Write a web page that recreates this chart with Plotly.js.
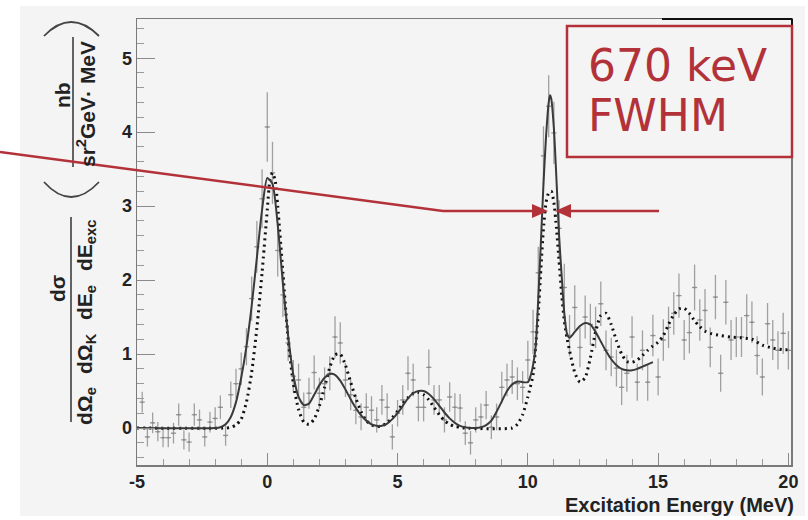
<!DOCTYPE html>
<html><head><meta charset="utf-8">
<script src="https://cdn.plot.ly/plotly-3.0.1.min.js"></script>
<style>html,body{margin:0;padding:0;background:#fff;}#plot{width:808px;height:520px;}</style>
</head><body><div id="plot"></div>
<script>
// ---- measured data (bin centres, values, errors) ----
const dataX = [-4.8,-4.6,-4.4,-4.2,-4.0,-3.8,-3.6,-3.4,-3.2,-3.0,-2.8,-2.6,-2.4,-2.2,-2.0,-1.8,-1.6,
 -1.4,-1.2,-1.0,-0.8,
 -0.6,-0.4,-0.2,0.0,0.2,0.4,0.6,
 0.8,1.0,1.2,1.4,1.6,1.8,2.0,2.2,2.4,2.6,2.8,3.0,3.2,3.4,3.6,3.8,4.0,4.2,4.4,4.6,4.8,5.0,5.2,5.4,5.6,5.8,6.0,6.2,6.4,6.6,6.8,7.0,7.2,7.4,7.6,7.8,8.0,8.2,8.4,8.6,8.8,9.0,9.2,9.4,9.6,9.8,
 10.0,10.2,10.4,10.6,10.8,11.0,11.2,11.4,
 11.6,11.8,12.0,12.2,12.4,12.6,12.8,13.0,13.2,13.4,13.6,13.8,14.0,14.2,14.4,14.6,14.8,15.0,15.2,15.4,15.6,15.8,16.0,16.2,16.4,16.6,16.8,17.0,17.2,17.4,17.6,17.8,18.0,18.2,18.4,18.6,18.8,19.0,19.2,19.4,19.6,19.8,20.0];
const dataY = [0.35,-0.12,0.07,-0.05,-0.13,-0.13,-0.07,0.18,-0.16,-0.19,0.18,0.11,-0.12,0.08,0.13,0.28,-0.10,
 0.45,0.60,0.80,1.10,
 1.75,2.45,3.10,4.07,3.45,2.40,1.80,
 1.15,0.70,0.65,0.28,0.47,0.75,0.47,0.60,0.74,1.23,1.15,0.65,0.45,0.24,0.15,0.28,0.24,0.11,0.38,0.28,-0.12,0.20,0.38,0.74,0.65,0.28,0.28,0.82,0.38,0.38,0.11,0.42,0.28,0.27,-0.07,-0.20,0.11,0.15,0.31,0.01,0.15,0.55,0.65,0.69,0.60,0.55,
 0.92,1.30,2.10,3.68,4.35,3.99,2.70,1.90,
 1.25,1.63,1.09,1.50,1.40,1.36,1.68,1.05,0.96,0.81,0.55,0.74,1.23,0.62,1.05,0.62,1.25,0.69,1.19,1.36,1.55,1.79,1.19,1.29,1.90,1.46,1.59,1.09,1.77,0.74,1.70,1.19,1.23,1.23,1.52,1.43,0.98,0.69,1.41,1.19,1.05,1.28,1.05];
const dataErr = [0.14,0.13,0.14,0.13,0.13,0.13,0.14,0.15,0.13,0.13,0.15,0.14,0.13,0.14,0.15,0.16,0.14,
 0.18,0.20,0.22,0.25,
 0.30,0.35,0.40,0.47,0.42,0.35,0.30,
 0.24,0.22,0.22,0.20,0.21,0.23,0.21,0.22,0.23,0.28,0.28,0.23,0.21,0.19,0.18,0.19,0.19,0.17,0.20,0.19,0.17,0.18,0.20,0.23,0.22,0.19,0.19,0.24,0.20,0.20,0.17,0.20,0.19,0.19,0.16,0.16,0.17,0.18,0.19,0.16,0.18,0.21,0.22,0.23,0.22,0.22,
 0.26,0.30,0.35,0.40,0.42,0.42,0.38,0.32,
 0.28,0.30,0.27,0.29,0.28,0.28,0.30,0.27,0.26,0.25,0.24,0.25,0.28,0.25,0.27,0.25,0.28,0.25,0.28,0.28,0.29,0.30,0.27,0.28,0.31,0.28,0.29,0.27,0.30,0.25,0.30,0.27,0.27,0.27,0.29,0.28,0.26,0.25,0.28,0.27,0.26,0.28,0.26];
const binHalf = 0.1;

// fit curve (solid)
const solidX = [-5,-2.0,-1.8,-1.6,-1.4,-1.2,-1.0,-0.8,-0.6,-0.4,-0.2,0.0,0.2,0.4,0.6,0.8,1.0,1.2,1.4,1.6,1.8,2.0,2.2,2.4,2.6,2.8,3.0,3.2,3.4,3.6,3.8,4.0,4.2,4.4,4.6,4.8,5.0,5.2,5.4,5.6,5.8,6.0,6.2,6.4,6.6,6.8,7.0,7.2,7.4,7.6,7.8,8.0,8.2,8.4,8.6,8.8,9.0,9.2,9.4,9.6,9.8,10.0,10.1,10.2,10.3,10.4,10.5,10.6,10.7,10.8,10.85,10.9,11.0,11.1,11.2,11.3,11.4,11.5,11.6,11.8,12.0,12.2,12.4,12.6,12.8,13.0,13.2,13.4,13.6,13.8,14.0,14.2,14.4,14.6,14.8];
const solidY = [0,0,0.01,0.05,0.15,0.35,0.68,1.10,1.65,2.30,2.95,3.38,3.30,2.75,1.95,1.25,0.72,0.42,0.31,0.33,0.45,0.58,0.68,0.73,0.72,0.64,0.52,0.39,0.27,0.17,0.10,0.05,0.03,0.03,0.06,0.12,0.20,0.30,0.40,0.47,0.50,0.50,0.46,0.39,0.30,0.21,0.13,0.07,0.03,0.01,0.0,0.0,0.01,0.04,0.10,0.22,0.36,0.50,0.59,0.63,0.62,0.62,0.70,0.85,1.10,1.75,2.50,3.30,3.95,4.40,4.50,4.45,4.05,3.35,2.60,2.05,1.55,1.28,1.22,1.30,1.38,1.42,1.40,1.30,1.17,1.04,0.93,0.85,0.80,0.78,0.78,0.80,0.83,0.86,0.89];

// comparison curve (dotted)
const dotX = [-5,-1.6,-1.4,-1.2,-1.0,-0.8,-0.6,-0.4,-0.2,0.0,0.1,0.2,0.3,0.4,0.6,0.8,1.0,1.2,1.4,1.6,1.8,2.0,2.2,2.4,2.6,2.8,3.0,3.2,3.4,3.6,3.8,4.0,4.2,4.4,4.6,4.8,5.0,5.2,5.4,5.6,5.8,6.0,6.2,6.4,6.6,6.8,7.0,7.2,7.4,7.6,9.4,9.6,9.8,10.0,10.2,10.3,10.4,10.5,10.6,10.7,10.8,10.9,11.0,11.1,11.2,11.3,11.4,11.5,11.6,11.8,12.0,12.2,12.4,12.6,12.8,13.0,13.2,13.4,13.6,13.8,14.0,14.2,14.4,14.6,14.8,15.0,15.2,15.4,15.6,15.8,16.0,16.2,16.4,16.6,16.8,17.0,17.4,17.8,18.2,18.6,19.0,19.4,19.8,20.0];
const dotY = [0,0,0.01,0.04,0.12,0.35,0.75,1.35,2.10,2.95,3.35,3.45,3.35,3.00,2.10,1.20,0.60,0.25,0.08,0.05,0.12,0.30,0.55,0.82,0.99,1.00,0.85,0.62,0.40,0.22,0.10,0.04,0.02,0.03,0.07,0.14,0.23,0.33,0.41,0.47,0.48,0.45,0.38,0.28,0.18,0.10,0.05,0.02,0.01,0,0,0.05,0.18,0.42,0.72,1.10,1.55,2.15,2.70,3.05,3.18,3.20,3.05,2.70,2.25,1.80,1.45,1.22,1.05,0.75,0.62,0.68,0.95,1.30,1.52,1.55,1.40,1.18,1.00,0.90,0.89,0.92,0.98,1.05,1.11,1.16,1.25,1.40,1.53,1.61,1.62,1.55,1.45,1.37,1.31,1.28,1.25,1.23,1.22,1.20,1.12,1.08,1.06,1.06];

const xTickVals = [-5,0,5,10,15,20];
const xTickText = ['-5','0','5','10','15','20'];
const yTickVals = [0,1,2,3,4,5];
const yTickText = ['0','1','2','3','4','5'];

// ---- layout geometry (pixels) ----
const L=137, R=791, T=19, B=465;
const px = x => (x-L)/(R-L);
const py = y => (B-y)/(B-T);
const RED = '#b3323a';
const TXT = '#222';
const FAM = 'Liberation Sans, Arial, sans-serif';
const titleFont = {family:FAM, size:21, color:TXT, weight:'bold'};

const traces = [
 {x:dataX, y:dataY, type:'scatter', mode:'markers',
  marker:{size:2, color:'#8a8a8a'},
  error_y:{type:'data', array:dataErr, visible:true, color:'#a0a0a0', thickness:1.3, width:0},
  error_x:{type:'constant', value:binHalf, visible:true, color:'#959595', thickness:1.3, width:0},
  hoverinfo:'skip', showlegend:false},
 {x:dotX, y:dotY, type:'scatter', mode:'lines', line:{color:'#111', width:3, dash:'2px,4px', shape:'spline', smoothing:0.6}, showlegend:false},
 {x:solidX, y:solidY, type:'scatter', mode:'lines', line:{color:'#3a3a3a', width:2, shape:'spline', smoothing:0.6}, showlegend:false}
];

const ann = (x,y,text,opt={}) => Object.assign({xref:'paper',yref:'paper',x:px(x),y:py(y),text:text,showarrow:false,
   textangle:-90, xanchor:'center', yanchor:'middle', font:titleFont}, opt);
const pp = (x,y) => `${px(x)} ${py(y)}`;

const layout = {
 width:808, height:520,
 margin:{l:L, r:808-R, t:T, b:520-B, pad:0},
 paper_bgcolor:'#ffffff', plot_bgcolor:'#f4f4f4',
 xaxis:{range:[-5,20.1], tickmode:'array', tickvals:xTickVals, ticktext:xTickText,
   ticks:'inside', ticklen:12, tickwidth:1, tickcolor:'#8a8a8a',
   minor:{tickmode:'linear', tick0:-5, dtick:1, ticks:'inside', ticklen:6, tickcolor:'#9a9a9a', showgrid:false},
   showline:true, linecolor:'#7a7a7a', linewidth:1.5, mirror:true, showgrid:false, zeroline:false,
   tickfont:{family:FAM, size:18, color:TXT, weight:'bold'},
   title:{text:''}},
 yaxis:{range:[-0.5,5.53], tickmode:'array', tickvals:yTickVals, ticktext:yTickText,
   ticks:'inside', ticklen:18, tickwidth:1, tickcolor:'#8a8a8a',
   minor:{tickmode:'linear', tick0:0, dtick:0.2, ticks:'inside', ticklen:7, tickcolor:'#9a9a9a', showgrid:false},
   showline:true, linecolor:'#7a7a7a', linewidth:1.5, mirror:true, showgrid:false, zeroline:false,
   tickfont:{family:FAM, size:18, color:TXT, weight:'bold'},
   title:{text:''}},
 shapes:[
  {type:'rect', xref:'paper', yref:'paper', x0:px(20), x1:px(805), y0:py(6), y1:py(516), fillcolor:'#f4f4f4', line:{width:0}, layer:'below'},
  {type:'line', xref:'paper', yref:'paper', x0:px(662), x1:px(792), y0:py(19), y1:py(19), line:{color:'#111', width:2}},
  {type:'line', xref:'paper', yref:'paper', x0:px(792), x1:px(792), y0:py(19), y1:py(25), line:{color:'#111', width:2}},
  // y-title fraction bars
  {type:'line', xref:'paper', yref:'paper', x0:px(71), x1:px(71), y0:py(217), y1:py(422), line:{color:'#333', width:1.5}},
  {type:'line', xref:'paper', yref:'paper', x0:px(73), x1:px(73), y0:py(37), y1:py(167), line:{color:'#333', width:1.5}},
  // y-title parentheses
  {type:'path', xref:'paper', yref:'paper', path:`M ${pp(44,182)} Q ${pp(71,212)} ${pp(99,182)}`, line:{color:'#444', width:1.8}},
  {type:'path', xref:'paper', yref:'paper', path:`M ${pp(44,36)} Q ${pp(71,8)} ${pp(99,36)}`, line:{color:'#444', width:1.8}},
  // red FWHM annotation
  {type:'line', xref:'paper', yref:'paper', x0:px(0), x1:px(443), y0:py(152), y1:py(211), line:{color:RED, width:2.5}},
  {type:'line', xref:'paper', yref:'paper', x0:px(443), x1:px(533), y0:py(211), y1:py(211), line:{color:RED, width:2.5}},
  {type:'line', xref:'paper', yref:'paper', x0:px(570), x1:px(659), y0:py(211), y1:py(211), line:{color:RED, width:2.5}},
  {type:'path', xref:'paper', yref:'paper', path:`M ${pp(532,204)} L ${pp(548,211)} L ${pp(532,218)} Z`, fillcolor:RED, line:{width:0}},
  {type:'path', xref:'paper', yref:'paper', path:`M ${pp(571,204)} L ${pp(555,211)} L ${pp(571,218)} Z`, fillcolor:RED, line:{width:0}},
  {type:'rect', xref:'paper', yref:'paper', x0:px(567), x1:px(792), y0:py(26), y1:py(157), line:{color:RED, width:2.5}, fillcolor:'rgba(0,0,0,0)'}
 ],
 annotations:[
  {xref:'paper', yref:'paper', x:px(796), y:py(505), xanchor:'right', yanchor:'middle', showarrow:false,
   text:'Excitation Energy (MeV)', font:{family:FAM, size:20, color:TXT, weight:'bold'}},
  ann(57,289,'dσ'),
  ann(86,406,'dΩ<sub>e</sub>'),
  ann(86,354,'dΩ<sub>K</sub>'),
  ann(86,303,'dE<sub>e</sub>'),
  ann(86,246,'dE<sub>exc</sub>'),
  ann(62,95,'nb'),
  ann(86,104,'sr<sup>2</sup>GeV· MeV'),
  {xref:'paper', yref:'paper', x:px(586), y:py(66), xanchor:'left', yanchor:'middle', showarrow:false,
   text:'670 keV', font:{family:'DejaVu Sans, Verdana, sans-serif', size:44, color:RED}},
  {xref:'paper', yref:'paper', x:px(586), y:py(116), xanchor:'left', yanchor:'middle', showarrow:false,
   text:'FWHM', font:{family:'DejaVu Sans, Verdana, sans-serif', size:44, color:RED}}
 ]
};
Plotly.newPlot('plot', traces, layout, {displayModeBar:false, staticPlot:true});
</script></body></html>
